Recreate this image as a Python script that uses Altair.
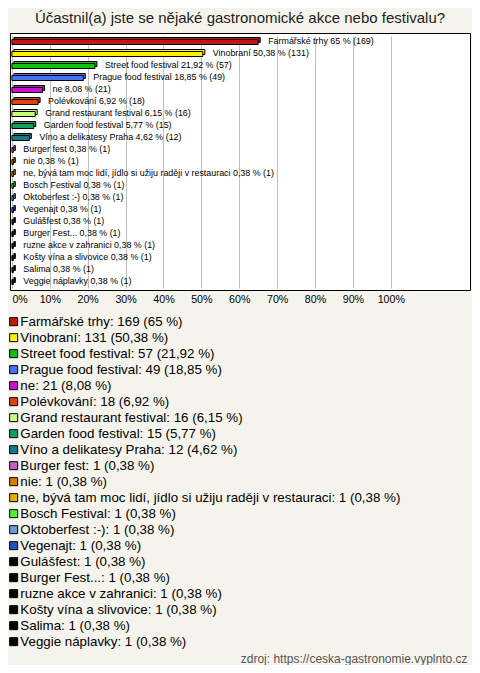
import altair as alt
import pandas as pd

names = [
    "Farmářské trhy", "Vinobraní", "Street food festival", "Prague food festival",
    "ne", "Polévkování", "Grand restaurant festival", "Garden food festival",
    "Víno a delikatesy Praha", "Burger fest", "nie",
    "ne, bývá tam moc lidí, jídlo si užiju raději v restauraci",
    "Bosch Festival", "Oktoberfest :-)", "Vegenajt", "Gulášfest", "Burger Fest...",
    "ruzne akce v zahranici", "Košty vína a slivovice", "Salima", "Veggie náplavky",
]
counts = [169, 131, 57, 49, 21, 18, 16, 15, 12, 1, 1, 1, 1, 1, 1, 1, 1, 1, 1, 1, 1]
pcts = [65, 50.38, 21.92, 18.85, 8.08, 6.92, 6.15, 5.77, 4.62,
        0.38, 0.38, 0.38, 0.38, 0.38, 0.38, 0.38, 0.38, 0.38, 0.38, 0.38, 0.38]
colors = [
    "#c01a0c", "#fff000", "#12c012", "#4a72f0", "#c812d0", "#e2420e", "#c8ff80",
    "#12a062", "#1a7888", "#c060c0", "#e07a00", "#e0b000", "#52f032", "#6a98e0",
    "#2252c0", "#000000", "#000000", "#000000", "#000000", "#000000", "#000000",
]
title_text = "Účastnil(a) jste se nějaké gastronomické akce nebo festivalu?"
source_text = "zdroj: https://ceska-gastronomie.vyplnto.cz"
tick_values = [0, 10, 20, 30, 40, 50, 60, 70, 80, 90, 100]


def fmt(p):
    return f"{p:g}".replace(".", ",")


bar_labels = [f"{n} {fmt(p)} % ({c})" for n, p, c in zip(names, pcts, counts)]
legend_labels = [f"{n}: {c} ({fmt(p)} %)" for n, p, c in zip(names, pcts, counts)]

df = pd.DataFrame({
    "name": names,
    "pct": pcts,
    "barlabel": bar_labels,
    "legend": legend_labels,
})

FONT = "Liberation Sans"

y_enc = alt.Y(
    "name:N", sort=names, axis=None,
    scale=alt.Scale(range=[2, 254], paddingInner=0, paddingOuter=0),
)
x_enc = alt.X(
    "pct:Q",
    scale=alt.Scale(domain=[-0.5, 120.9], nice=False, zero=False),
    axis=alt.Axis(
        values=tick_values,
        labelExpr="datum.value + '%'",
        grid=True, gridColor="#c0c0c0", gridWidth=1,
        ticks=False, tickSize=0, domain=False,
        labelPadding=4, labelFontSize=10.67, labelFont=FONT, labelColor="#000000",
        labelAlign={"condition": {"test": "datum.value == 0", "value": "left"}, "value": "center"},
        title=source_text,
        titleX=457, titleY=368, titleAlign="right", titleBaseline="middle",
        titleAnchor="end",
        titleFont=FONT, titleFontSize=12, titleFontWeight="normal", titleColor="#555555",
    ),
)
color_enc = alt.Color(
    "legend:N",
    scale=alt.Scale(domain=legend_labels, range=colors),
    legend=alt.Legend(
        orient="none", legendX=-3, legendY=282, direction="vertical",
        title=None, padding=0, offset=0,
        symbolType="square", symbolSize=64, symbolStrokeColor="black",
        symbolStrokeWidth=1, symbolOpacity=1,
        labelFont=FONT, labelFontSize=13.33, labelColor="#000000",
        labelOffset=0, rowPadding=2.0, labelLimit=470,
    ),
)

base = alt.Chart(df)

depth = base.mark_bar(
    height=5, stroke="black", strokeWidth=1, xOffset=2, x2Offset=2, yOffset=-1
).encode(x=x_enc, y=y_enc, color=color_enc)

front = base.mark_bar(
    height=5, stroke="black", strokeWidth=1, yOffset=1
).encode(x="pct:Q", y=y_enc, color=color_enc)

labels = base.mark_text(
    align="left", baseline="middle", dx=10, dy=0, font=FONT, fontSize=8.9, color="#000000"
).encode(x="pct:Q", y=y_enc, text="barlabel:N")

chart = alt.layer(depth, front, labels).properties(
    width=460,
    height=257,
    autosize=alt.AutoSizeParams(type="none"),
    padding={"left": 2, "top": 25, "right": 2, "bottom": 375},
    background="#f5f4ec",
    title=alt.TitleParams(
        text=title_text, font=FONT, fontSize=15, fontWeight="normal",
        color="#222222", anchor="middle", baseline="alphabetic", offset=11, dy=16,
    ),
).configure_view(fill="white", stroke="black", strokeWidth=1)

chart.save("out.html", embed_options={"renderer": "svg", "actions": False})
